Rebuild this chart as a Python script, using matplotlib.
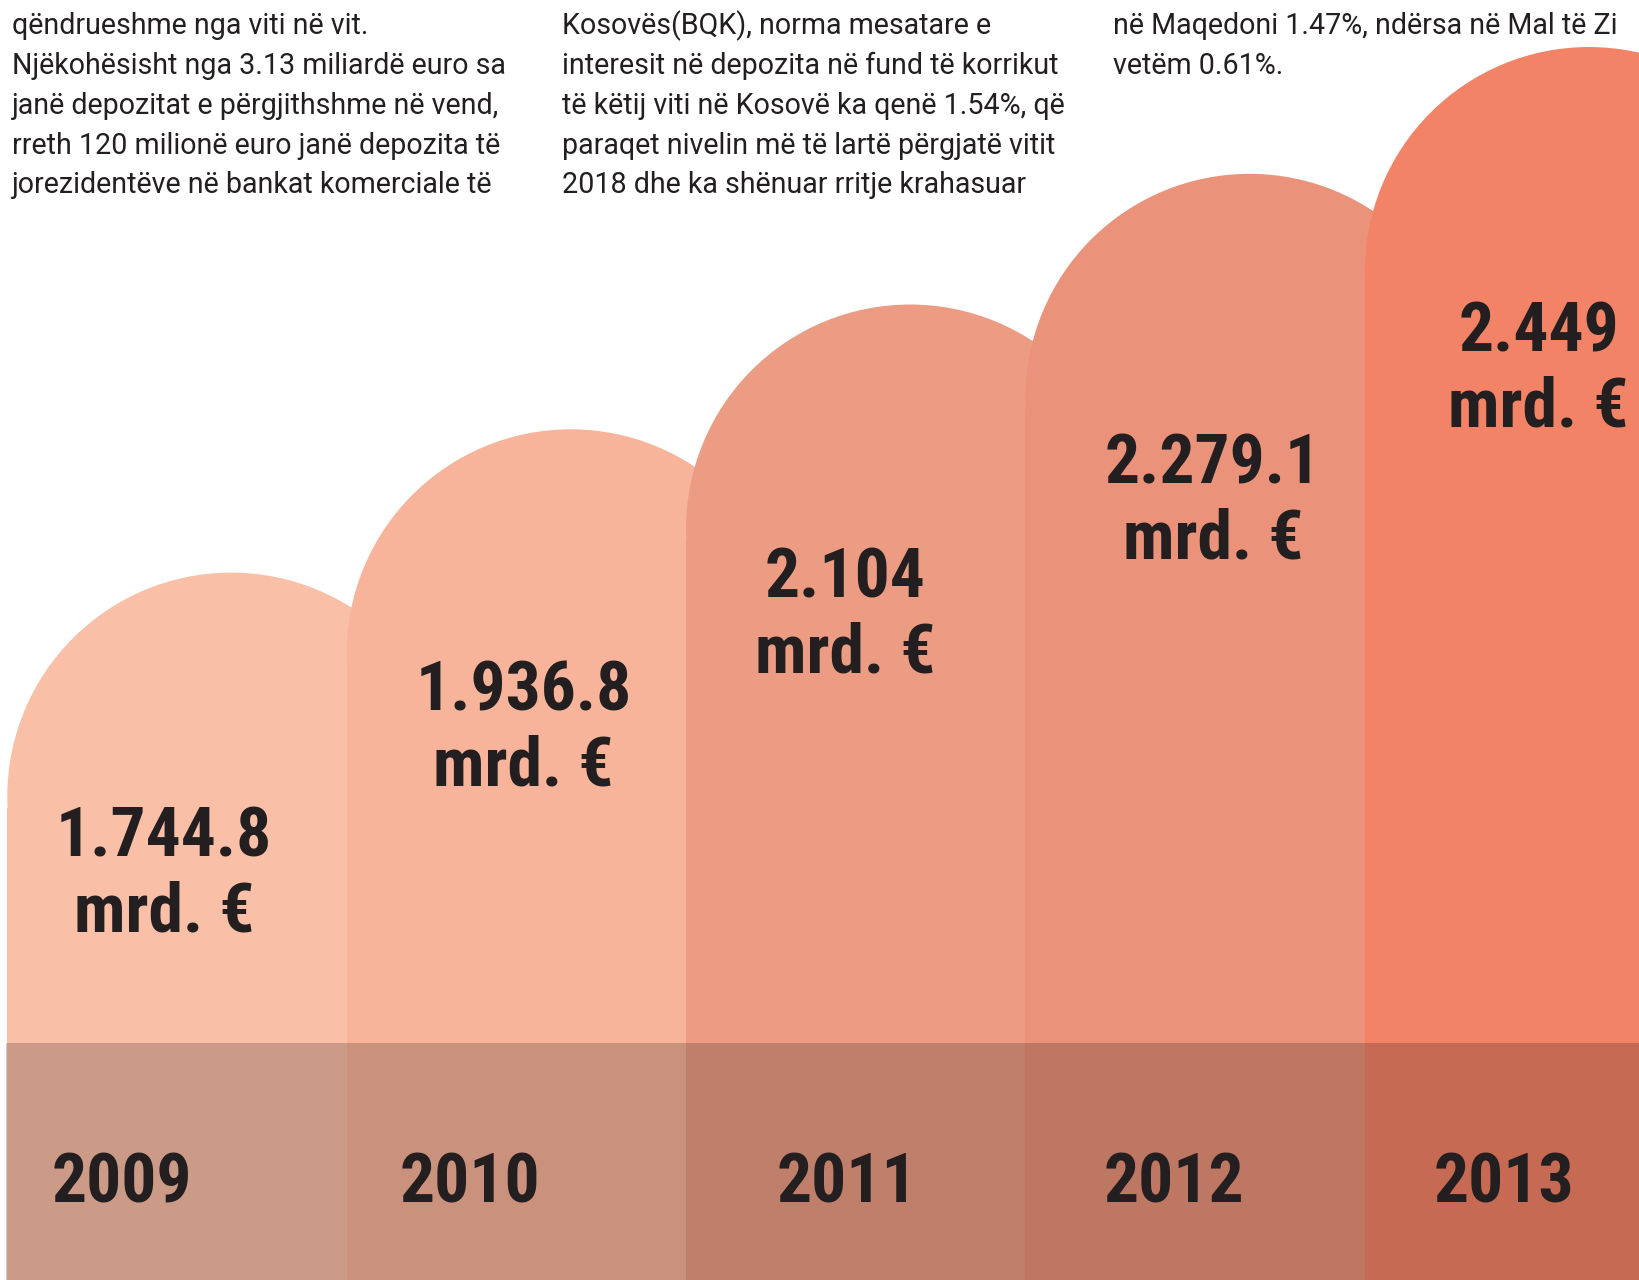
import matplotlib.pyplot as plt
from matplotlib.patches import Rectangle, Ellipse
from matplotlib import font_manager

# Data
years = ['2009', '2010', '2011', '2012', '2013']
deposits = [1744.8, 1936.8, 2104.0, 2279.1, 2449.0]
value_labels = ['1.744.8', '1.936.8', '2.104', '2.279.1', '2.449']
unit = 'mrd. €'
bar_colors = ['#F9BFA7', '#F8B49A', '#EC9C83', '#EA927A', '#F38366']

col1 = ['qëndrueshme nga viti në vit.',
        'Njëkohësisht nga 3.13 miliardë euro sa',
        'janë depozitat e përgjithshme në vend,',
        'rreth 120 milionë euro janë depozita të',
        'jorezidentëve në bankat komerciale të']
col2 = ['Kosovës(BQK), norma mesatare e',
        'interesit në depozita në fund të korrikut',
        'të këtij viti në Kosovë ka qenë 1.54%, që',
        'paraqet nivelin më të lartë përgjatë vitit',
        '2018 dhe ka shënuar rritje krahasuar']
col3 = ['në Maqedoni 1.47%, ndërsa në Mal të Zi',
        'vetëm 0.61%.']

INK = '#231F20'

# pick the narrowest heavy font that is installed
fonts = font_manager.fontManager.ttflist
names = {f.name for f in fonts}
if 'Roboto Condensed' in names:
    big = dict(family='Roboto Condensed', weight='bold')
elif 'Liberation Sans Narrow' in names:
    big = dict(family='Liberation Sans Narrow', weight='bold')
else:
    big = dict(family='DejaVu Sans', weight='bold')

W, H = 1639, 1280
fig = plt.figure(figsize=(W / 100, H / 100), dpi=100)
ax = fig.add_axes([0, 0, 1, 1])

bar_px = 339.4      # bar width in pixels
left_px = 7.3       # first bar left edge
ax.set_xlim(-left_px / bar_px, (W - left_px) / bar_px)
ax.set_ylim(797, 2512)
ax.axis('off')

px_y = H / (2512 - 797)
r_px = 224
rx = r_px / bar_px
ry = r_px / px_y

for i, (v, c) in enumerate(zip(deposits, bar_colors)):
    cy = v - ry
    ax.add_patch(Ellipse((i + rx, cy), 2 * rx, 2 * ry, facecolor=c,
                         edgecolor='none', zorder=2 + i))
    ax.add_patch(Rectangle((i, 797), 1.0, cy - 0.05 * ry - 797, facecolor=c,
                           edgecolor='none', zorder=2 + i))

# darker band with the years
ax.add_patch(Rectangle((6 / W, 0), 1, 237 / H, transform=ax.transAxes,
                       facecolor='black', alpha=0.185, edgecolor='none', zorder=10))

label_dx = [-13, 7, -11, 18, 4]
label_dy = [284, 281, 293, 310, 304]
year_dx = [-55, -46, -9, -21, -31]
for i, v in enumerate(deposits):
    ax.annotate(value_labels[i], (i + 0.5, v), xytext=(label_dx[i], -label_dy[i]),
                textcoords='offset pixels', ha='center', va='baseline',
                fontsize=50, color=INK, zorder=20, **big)
    ax.annotate(unit, (i + 0.5, v), xytext=(label_dx[i], -label_dy[i] - 75),
                textcoords='offset pixels', ha='center', va='baseline',
                fontsize=50, color=INK, zorder=20, **big)
    ax.text(i + 0.5 + year_dx[i] / bar_px, 96 / H, years[i],
            transform=ax.get_xaxis_transform(), ha='center', va='center',
            fontsize=50, color=INK, zorder=20, **big)

# body text columns at the top
for cx, lines in [(12, col1), (562, col2), (1113, col3)]:
    for k, line in enumerate(lines):
        fig.text(cx / W, 1 - (34.5 + 39.7 * k) / H, line, ha='left',
                 va='baseline', fontsize=20.6, family='Roboto', color=INK)

fig.savefig('out.png', dpi=100)
